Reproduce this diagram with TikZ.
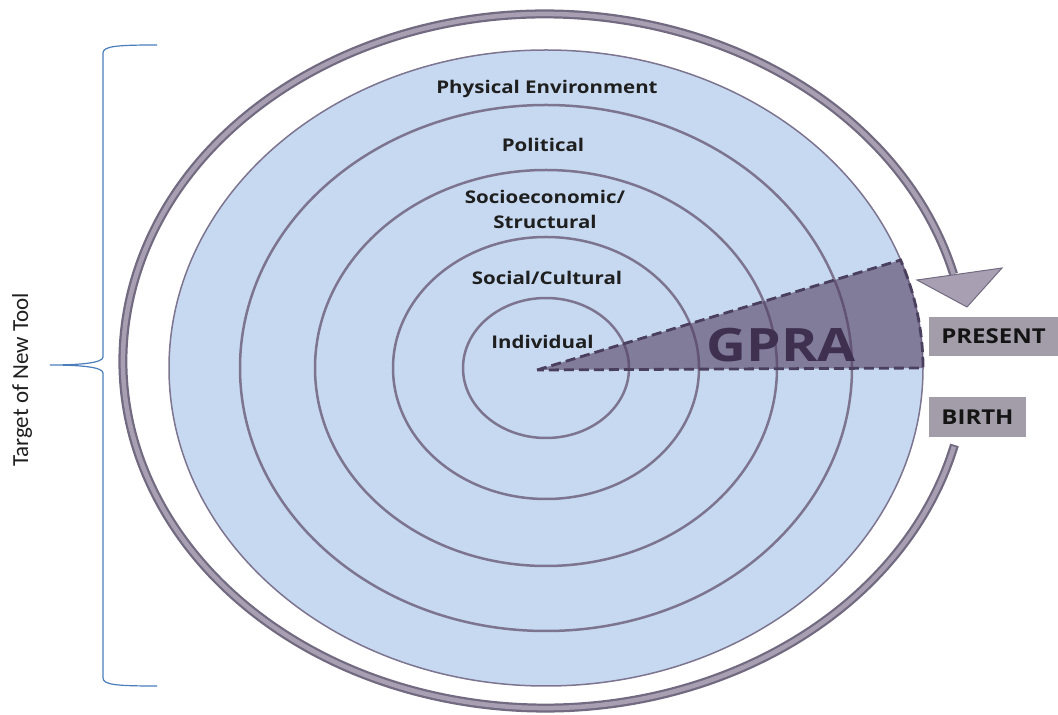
\documentclass[tikz,border=0pt]{standalone}
\usepackage{fontspec}
\setmainfont{Open Sans}
\newfontfamily\lblfont[FakeStretch=1.17]{Open Sans}
\newfontfamily\gprafont[FakeStretch=1.2]{Open Sans}
\newfontfamily\carl{Carlito}
\usetikzlibrary{calc}
\definecolor{ringdark}{HTML}{716A80}
\definecolor{ringlight}{HTML}{A89FB2}
\definecolor{bluefill}{HTML}{C6D9F0}
\definecolor{circline}{HTML}{7D7490}
\definecolor{wedgefill}{HTML}{523E62}
\definecolor{wedgeline}{HTML}{4B3F5E}
\definecolor{gprac}{HTML}{3F3050}
\definecolor{boxfill}{HTML}{A39CA9}
\definecolor{bracec}{HTML}{4A7EBB}
\begin{document}
\begin{tikzpicture}[x=1pt,y=1pt,
  lbl/.style={font=\lblfont\bfseries\fontsize{17.5}{25}\selectfont, text=black!88, align=center, inner sep=0pt},
  circ/.style={draw=circline, line width=2.5pt},
  boxlbl/.style={fill=boxfill, font=\lblfont\bfseries\fontsize{20.5}{24}\selectfont, text=black!92, inner sep=0pt}]
\useasboundingbox (0,0) rectangle (1058,715);
\coordinate (rc) at (545,354);
\coordinate (cc) at (546,347);
% outer time ring
\draw[line width=9pt, color=ringdark] (rc) ++(-14:422pt and 347pt)
  arc[start angle=-14, end angle=-345.5, x radius=422pt, y radius=347pt];
\draw[line width=4.5pt, color=ringlight] (rc) ++(-14.3:422pt and 347pt)
  arc[start angle=-14.3, end angle=-345.5, x radius=422pt, y radius=347pt];
\coordinate (ah1) at (917,435);
\coordinate (ah2) at (1002,447);
\coordinate (ah3) at (967,408);
\filldraw[fill=ringlight, draw=ringdark, line width=1pt, line join=miter] (ah1) -- (ah2) -- (ah3) -- cycle;
% environment ellipses
\fill[bluefill] (cc) ellipse[x radius=377pt, y radius=318pt];
\draw[draw=circline, line width=1.5pt] (cc) ellipse[x radius=377pt, y radius=318pt];
\draw[circ] (cc) ellipse[x radius=306pt, y radius=263pt];
\draw[circ] (cc) ellipse[x radius=231pt, y radius=198pt];
\draw[circ] (cc) ellipse[x radius=153pt, y radius=131pt];
\draw[circ] (cc) ellipse[x radius=83pt, y radius=70pt];
% GPRA wedge
\coordinate (apex) at (537,345);
\filldraw[fill=wedgefill, fill opacity=0.6, draw=wedgeline, line width=2.8pt, dash pattern=on 10pt off 5pt]
  (apex) -- ($(cc)+(19.85:377pt and 318pt)$)
  arc[start angle=19.85, end angle=0, x radius=377pt, y radius=318pt] -- cycle;
\node[font=\gprafont\bfseries\fontsize{46}{50}\selectfont, text=gprac, inner sep=0pt] (gpra) at (781,370) {GPRA};
% level labels
\node[lbl] (phys) at (547,626) {Physical Environment};
\node[lbl] (pol) at (543,570) {Political};
\node[lbl] (socio) at (545,505.5) {Socioeconomic/\\Structural};
\node[lbl] (soc) at (547,437) {Social/Cultural};
\node[lbl] (ind) at (542.5,373) {Individual};
% time labels
\node[boxlbl, minimum width=129pt, minimum height=39pt] (present) at (993.5,378.5) {PRESENT};
\node[boxlbl, minimum width=97pt, minimum height=40pt] (birth) at (977.5,298) {BIRTH};
% brace
\draw[bracec, line width=1.2pt]
  (157,670) .. controls (118,670) and (103,669) .. (103,662) -- (103,358)
  .. controls (103,352) and (80,350) .. (50,350)
  .. controls (80,350) and (103,348) .. (103,342) -- (103,37)
  .. controls (103,30) and (118,29) .. (157,29);
\node[rotate=90, font=\carl\fontsize{23}{26}\selectfont, text=black!88, inner sep=0pt] (target) at (22,335) {Target of New Tool};
\end{tikzpicture}
\end{document}
